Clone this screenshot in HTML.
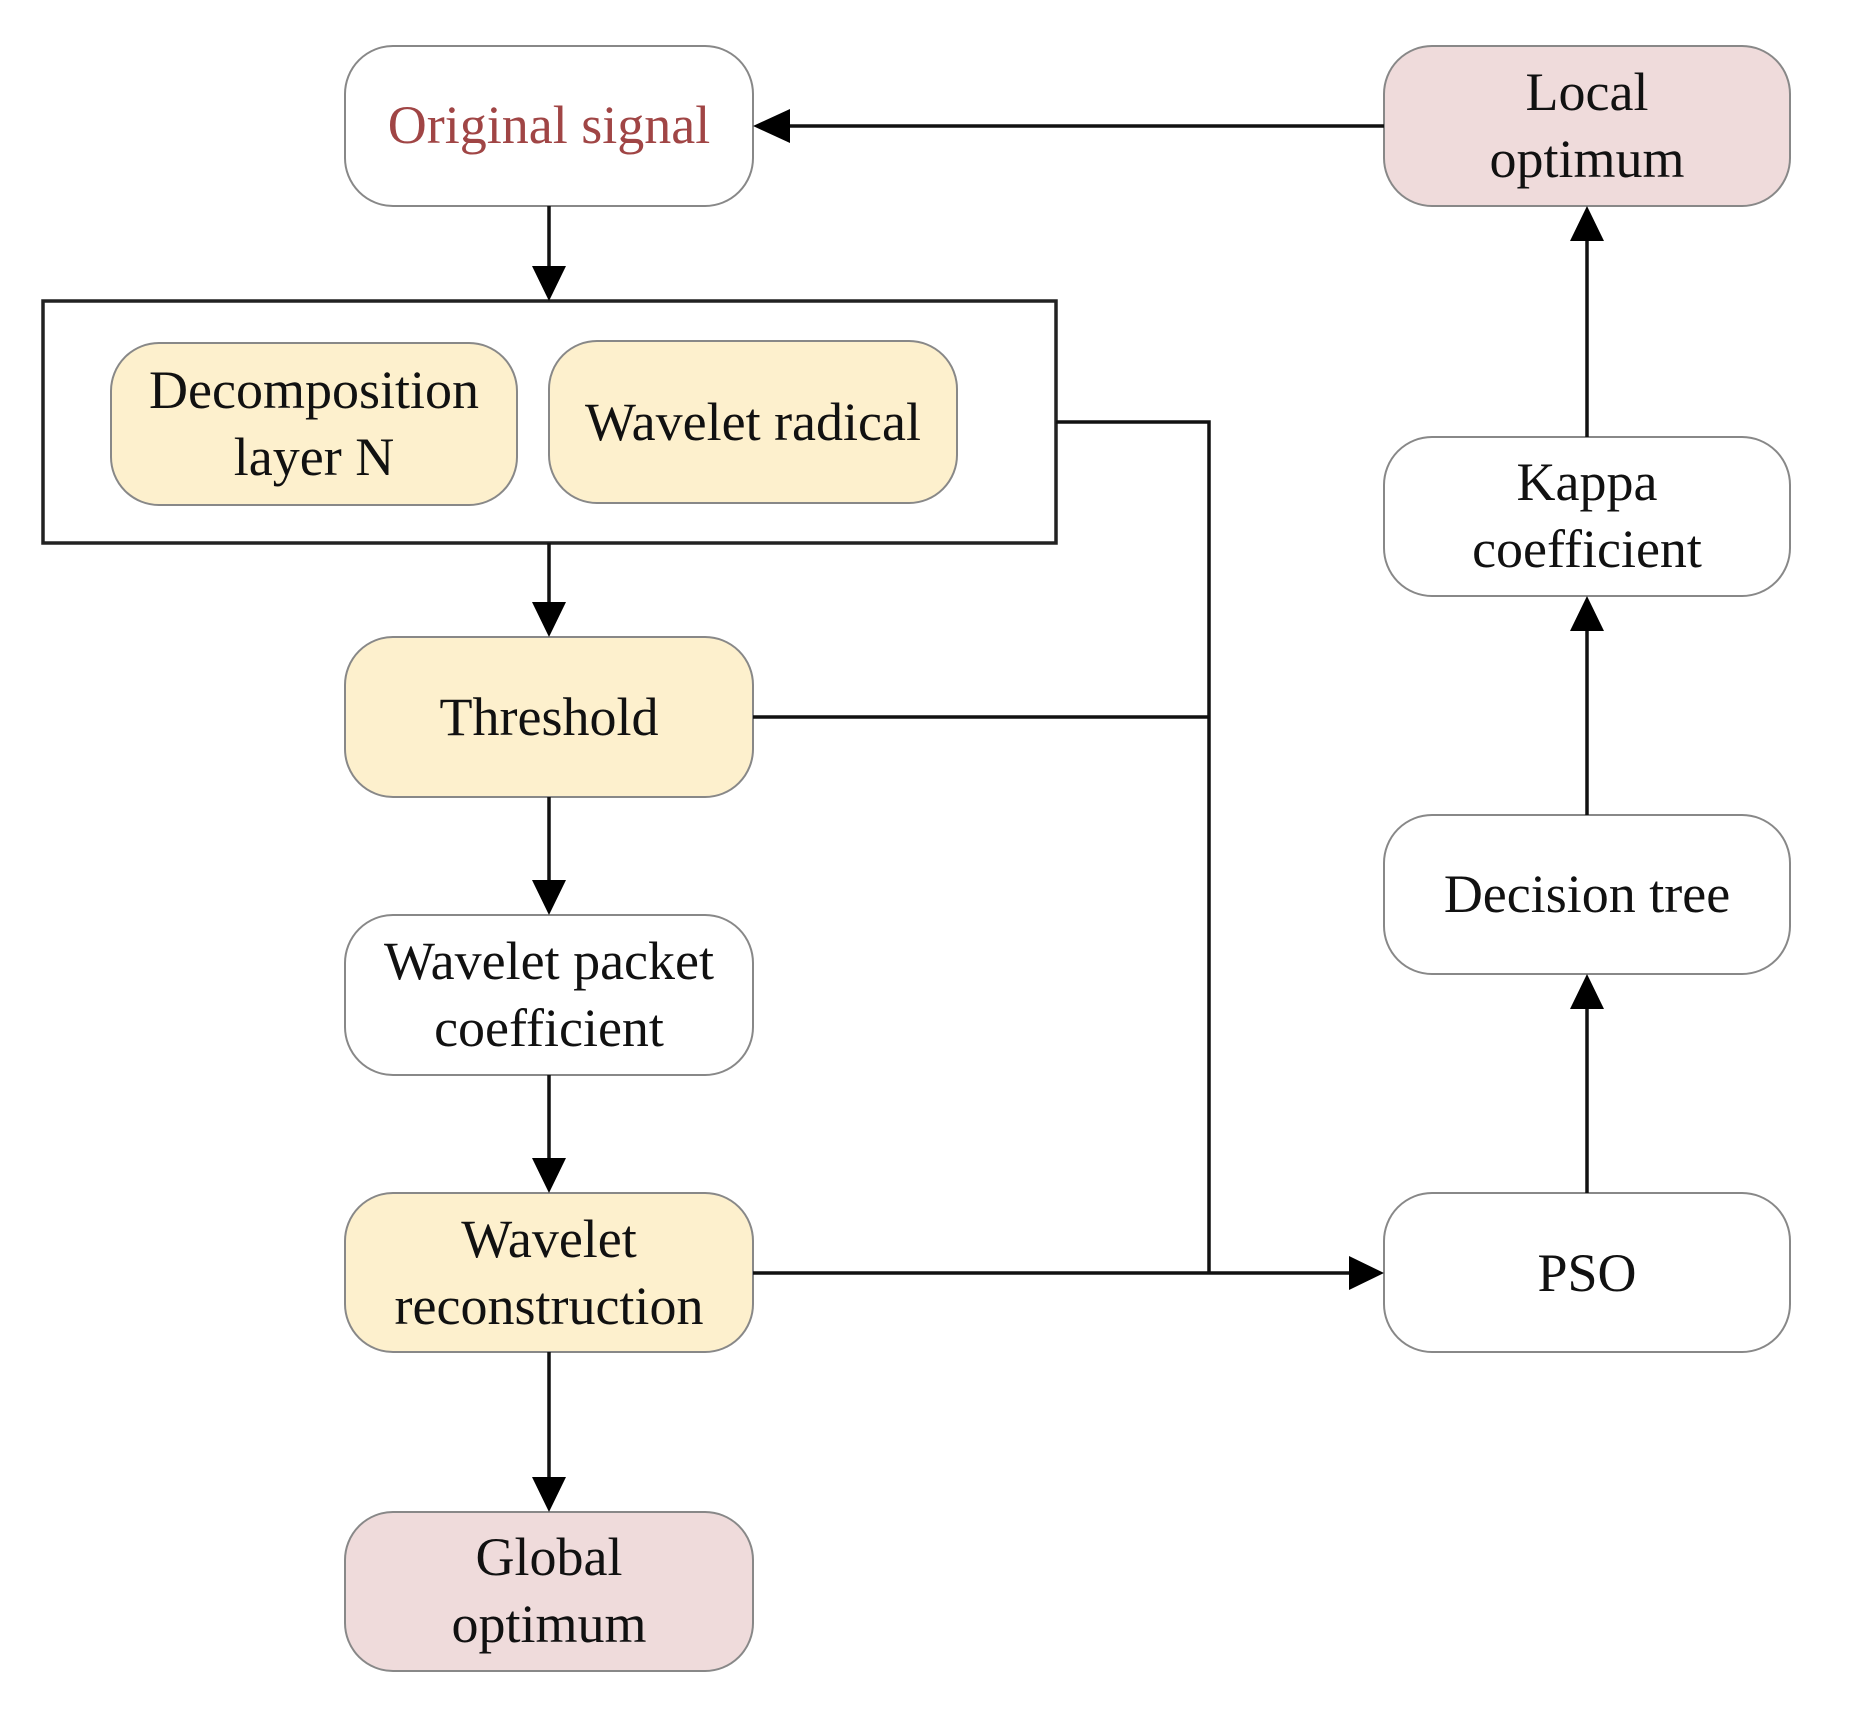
<!DOCTYPE html>
<html><head><meta charset="utf-8"><style>
html,body{margin:0;padding:0;background:#fff;}
svg{display:block;}
text{font-family:"Liberation Serif",serif;font-size:54px;fill:#111;text-anchor:middle;}
</style></head><body>
<svg width="1857" height="1709" viewBox="0 0 1857 1709" xmlns="http://www.w3.org/2000/svg">
<g stroke="#888" stroke-width="2">
<rect x="345" y="46" width="408" height="160" rx="48" fill="#fff"/>
<rect x="1384" y="46" width="406" height="160" rx="48" fill="#efdbdb"/>
<rect x="1384" y="437" width="406" height="159" rx="48" fill="#fff"/>
<rect x="1384" y="815" width="406" height="159" rx="48" fill="#fff"/>
<rect x="1384" y="1193" width="406" height="159" rx="48" fill="#fff"/>
<rect x="345" y="637" width="408" height="160" rx="48" fill="#fdf0cd"/>
<rect x="345" y="915" width="408" height="160" rx="48" fill="#fff"/>
<rect x="345" y="1193" width="408" height="159" rx="48" fill="#fdf0cd"/>
<rect x="345" y="1512" width="408" height="159" rx="48" fill="#efdbdb"/>
<rect x="111" y="343" width="406" height="162" rx="48" fill="#fdf0cd"/>
<rect x="549" y="341" width="408" height="162" rx="48" fill="#fdf0cd"/>
</g>
<rect x="43" y="301" width="1013" height="242" fill="none" stroke="#222" stroke-width="3.5"/>
<g stroke="#111" stroke-width="3.5" fill="none">
<line x1="1384" y1="126" x2="785" y2="126"/>
<line x1="549" y1="206" x2="549" y2="270"/>
<line x1="549" y1="543" x2="549" y2="605"/>
<line x1="549" y1="797" x2="549" y2="883"/>
<line x1="549" y1="1075" x2="549" y2="1161"/>
<line x1="549" y1="1352" x2="549" y2="1480"/>
<polyline points="1056,422 1209,422 1209,1273"/>
<line x1="753" y1="717" x2="1209" y2="717"/>
<line x1="753" y1="1273" x2="1352" y2="1273"/>
<line x1="1587" y1="1193" x2="1587" y2="1006"/>
<line x1="1587" y1="815" x2="1587" y2="628"/>
<line x1="1587" y1="437" x2="1587" y2="238"/>
</g>
<g fill="#000">
<polygon points="753,126 790,109 790,143"/>
<polygon points="549,301 532,266 566,266"/>
<polygon points="549,637 532,602 566,602"/>
<polygon points="549,915 532,880 566,880"/>
<polygon points="549,1193 532,1158 566,1158"/>
<polygon points="549,1512 532,1477 566,1477"/>
<polygon points="1384,1273 1349,1256 1349,1290"/>
<polygon points="1587,974 1570,1009 1604,1009"/>
<polygon points="1587,596 1570,631 1604,631"/>
<polygon points="1587,206 1570,241 1604,241"/>
</g>
<text x="549" y="143" style="fill:#a04545">Original signal</text>
<text x="1587" y="110">Local</text>
<text x="1587" y="177">optimum</text>
<text x="314" y="408">Decomposition</text>
<text x="314" y="475">layer N</text>
<text x="753" y="440">Wavelet radical</text>
<text x="549" y="735">Threshold</text>
<text x="549" y="979">Wavelet packet</text>
<text x="549" y="1046">coefficient</text>
<text x="549" y="1257">Wavelet</text>
<text x="549" y="1324">reconstruction</text>
<text x="549" y="1575">Global</text>
<text x="549" y="1642">optimum</text>
<text x="1587" y="500">Kappa</text>
<text x="1587" y="567">coefficient</text>
<text x="1587" y="912">Decision tree</text>
<text x="1587" y="1291">PSO</text>
</svg>
</body></html>
